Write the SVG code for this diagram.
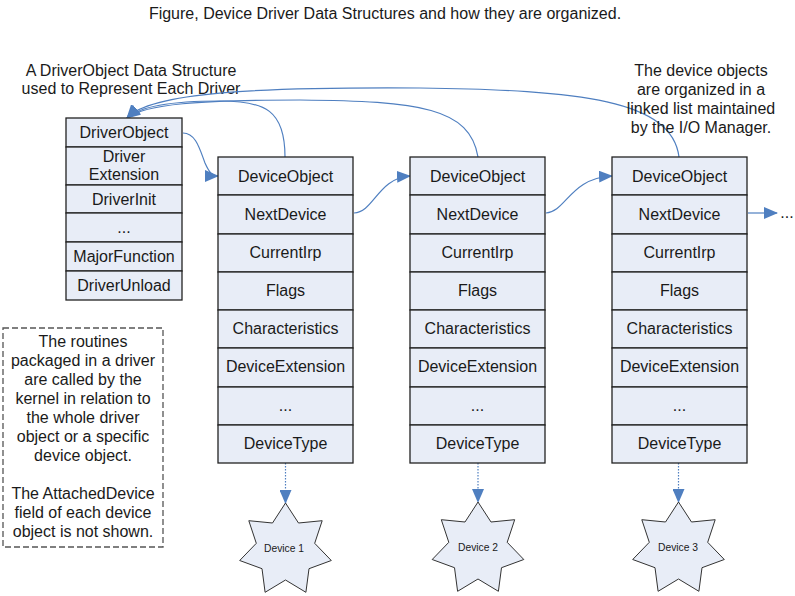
<svg xmlns="http://www.w3.org/2000/svg" xmlns:xlink="http://www.w3.org/1999/xlink" width="795" height="596" viewBox="0 0 795 596">
<style>
text{font-family:"Liberation Sans",Arial,sans-serif;fill:#1a1a1a;text-anchor:middle}
.t{font-size:16px}
.s{font-size:10.3px}
.cell{fill:#e8edf7;stroke:#222;stroke-width:1.3}
.star{fill:#e8edf7;stroke:#333;stroke-width:1}
.con{fill:none;stroke:#4f7fc0;stroke-width:1.2}
.dot{fill:none;stroke:#4f7fc0;stroke-width:1.2;stroke-dasharray:1.5 1.5}
.note{fill:#fff;stroke:#555;stroke-width:1.3;stroke-dasharray:6 3}
</style>
<defs>
<marker id="ah" markerUnits="userSpaceOnUse" markerWidth="14" markerHeight="12" viewBox="0 0 14 12" refX="13" refY="6" orient="auto">
<path d="M0,0 L14,6 L0,12 z" fill="#4f7fc0"/>
</marker>
<polygon id="starShape" points="0,-47 13,-27 36.7,-29.3 29.2,-6.7 45.8,10.5 23.5,18.7 20.4,42.3 0,30 -20.4,42.3 -23.5,18.7 -45.8,10.5 -29.2,-6.7 -36.7,-29.3 -13,-27"/>
</defs>
<rect width="795" height="596" fill="#fff"/>

<text id="title" class="t" x="385" y="19">Figure, Device Driver Data Structures and how they are organized.</text>

<g id="label-driver">
<text class="t" x="131" y="76">A DriverObject Data Structure</text>
<text class="t" x="131" y="94">used to Represent Each Driver</text>
</g>

<g id="connectors">
<path class="con" d="M679,157 C672,100 580,90 420,88 C260,87 150,92 127,118" marker-end="url(#ah)"/>
<path class="con" d="M478,157 C470,108 420,101 300,100 C200,100 145,104 127,118" marker-end="url(#ah)"/>
<path class="con" d="M285,157 C285,110 265,101 220,101 C170,101 140,106 127,118" marker-end="url(#ah)"/>
<path class="con" d="M183,133 C196,133 200,150 205,163 C209,172 212,176 218,176" marker-end="url(#ah)"/>
<path class="con" d="M354,213 C374,212 378,178 410,176" marker-end="url(#ah)"/>
<path class="con" d="M546,213 C566,212 570,178 612,176" marker-end="url(#ah)"/>
<path class="con" d="M748,213 L777,213" marker-end="url(#ah)"/>
<path class="dot" d="M285.5,463 L285.5,503" marker-end="url(#ah)"/>
<path class="dot" d="M478,463 L478,502" marker-end="url(#ah)"/>
<path class="dot" d="M678.5,463 L678.5,502" marker-end="url(#ah)"/>
</g>
<text id="more" class="t" x="787" y="218">...</text>

<g id="label-list">
<text class="t" x="701" y="76">The device objects</text>
<text class="t" x="701" y="95">are organized in a</text>
<text class="t" x="701" y="114">linked list maintained</text>
<text class="t" x="701" y="133">by the I/O Manager.</text>
</g>

<g id="driver-object">
<rect class="cell" x="66" y="118" width="116" height="29"/>
<rect class="cell" x="66" y="147" width="116" height="38"/>
<rect class="cell" x="66" y="185" width="116" height="28"/>
<rect class="cell" x="66" y="213" width="116" height="29"/>
<rect class="cell" x="66" y="242" width="116" height="29"/>
<rect class="cell" x="66" y="271" width="116" height="29"/>
<text class="t" x="124" y="138">DriverObject</text>
<text class="t" x="124" y="162">Driver</text>
<text class="t" x="124" y="180">Extension</text>
<text class="t" x="124" y="205">DriverInit</text>
<text class="t" x="124" y="233">...</text>
<text class="t" x="124" y="262">MajorFunction</text>
<text class="t" x="124" y="291">DriverUnload</text>
</g>

<g id="device-object-1">
<rect class="cell" x="218" y="157" width="135" height="38"/>
<rect class="cell" x="218" y="195" width="135" height="39"/>
<rect class="cell" x="218" y="234" width="135" height="38"/>
<rect class="cell" x="218" y="272" width="135" height="38"/>
<rect class="cell" x="218" y="310" width="135" height="38"/>
<rect class="cell" x="218" y="348" width="135" height="39"/>
<rect class="cell" x="218" y="387" width="135" height="38"/>
<rect class="cell" x="218" y="425" width="135" height="38"/>
<text class="t" x="285.5" y="182">DeviceObject</text>
<text class="t" x="285.5" y="220">NextDevice</text>
<text class="t" x="285.5" y="258">CurrentIrp</text>
<text class="t" x="285.5" y="296">Flags</text>
<text class="t" x="285.5" y="334">Characteristics</text>
<text class="t" x="285.5" y="372">DeviceExtension</text>
<text class="t" x="285.5" y="411">...</text>
<text class="t" x="285.5" y="449">DeviceType</text>
</g>

<g id="device-object-2">
<rect class="cell" x="410" y="157" width="135" height="38"/>
<rect class="cell" x="410" y="195" width="135" height="39"/>
<rect class="cell" x="410" y="234" width="135" height="38"/>
<rect class="cell" x="410" y="272" width="135" height="38"/>
<rect class="cell" x="410" y="310" width="135" height="38"/>
<rect class="cell" x="410" y="348" width="135" height="39"/>
<rect class="cell" x="410" y="387" width="135" height="38"/>
<rect class="cell" x="410" y="425" width="135" height="38"/>
<text class="t" x="477.5" y="182">DeviceObject</text>
<text class="t" x="477.5" y="220">NextDevice</text>
<text class="t" x="477.5" y="258">CurrentIrp</text>
<text class="t" x="477.5" y="296">Flags</text>
<text class="t" x="477.5" y="334">Characteristics</text>
<text class="t" x="477.5" y="372">DeviceExtension</text>
<text class="t" x="477.5" y="411">...</text>
<text class="t" x="477.5" y="449">DeviceType</text>
</g>

<g id="device-object-3">
<rect class="cell" x="612" y="157" width="135" height="38"/>
<rect class="cell" x="612" y="195" width="135" height="39"/>
<rect class="cell" x="612" y="234" width="135" height="38"/>
<rect class="cell" x="612" y="272" width="135" height="38"/>
<rect class="cell" x="612" y="310" width="135" height="38"/>
<rect class="cell" x="612" y="348" width="135" height="39"/>
<rect class="cell" x="612" y="387" width="135" height="38"/>
<rect class="cell" x="612" y="425" width="135" height="38"/>
<text class="t" x="679.5" y="182">DeviceObject</text>
<text class="t" x="679.5" y="220">NextDevice</text>
<text class="t" x="679.5" y="258">CurrentIrp</text>
<text class="t" x="679.5" y="296">Flags</text>
<text class="t" x="679.5" y="334">Characteristics</text>
<text class="t" x="679.5" y="372">DeviceExtension</text>
<text class="t" x="679.5" y="411">...</text>
<text class="t" x="679.5" y="449">DeviceType</text>
</g>

<g id="note">
<rect class="note" x="3" y="328" width="160" height="219"/>
<text class="t" x="83" y="347">The routines</text>
<text class="t" x="83" y="366">packaged in a driver</text>
<text class="t" x="83" y="385">are called by the</text>
<text class="t" x="83" y="404">kernel in relation to</text>
<text class="t" x="83" y="423">the whole driver</text>
<text class="t" x="83" y="442">object or a specific</text>
<text class="t" x="83" y="461">device object.</text>
<text class="t" x="83" y="499">The AttachedDevice</text>
<text class="t" x="83" y="518">field of each device</text>
<text class="t" x="83" y="537">object is not shown.</text>
</g>

<g id="device-1">
<use xlink:href="#starShape" class="star" transform="translate(285.5,550)"/>
<text class="s" x="284" y="552">Device 1</text>
</g>
<g id="device-2">
<use xlink:href="#starShape" class="star" transform="translate(478,549)"/>
<text class="s" x="478" y="551">Device 2</text>
</g>
<g id="device-3">
<use xlink:href="#starShape" class="star" transform="translate(678.5,549)"/>
<text class="s" x="678" y="551">Device 3</text>
</g>
</svg>
